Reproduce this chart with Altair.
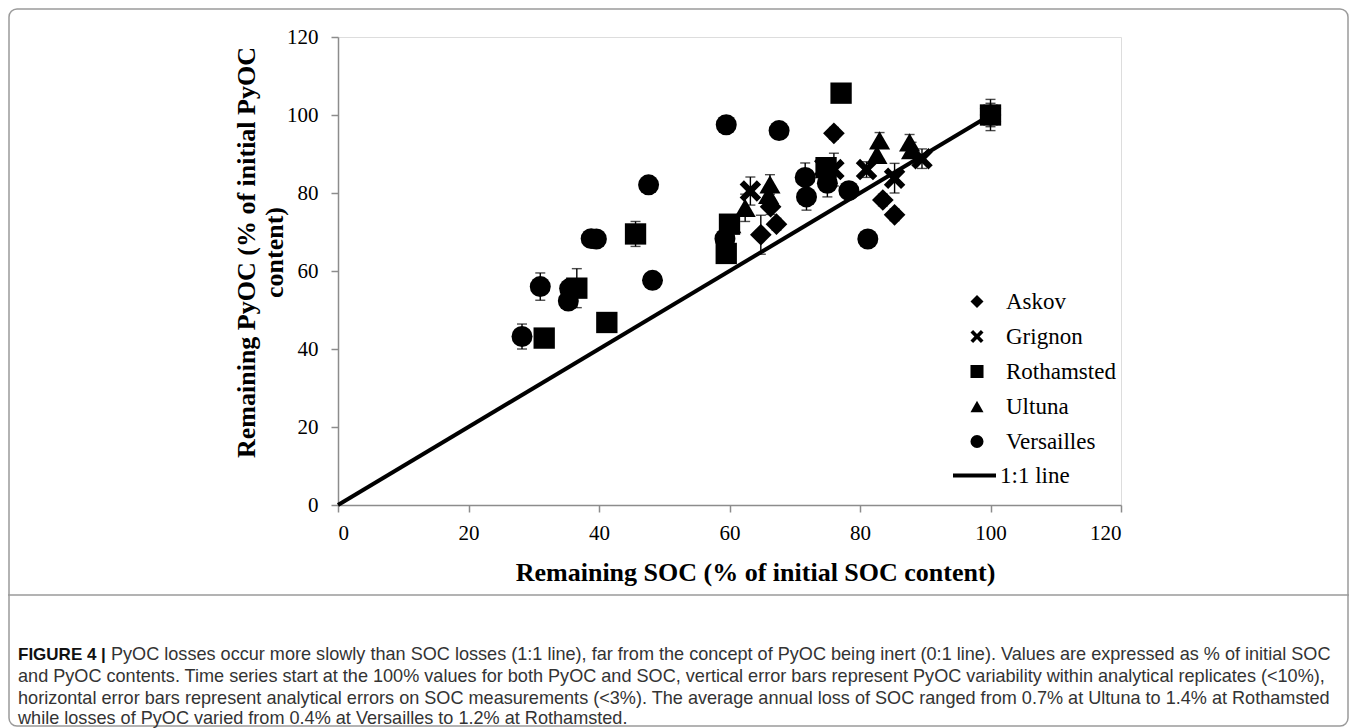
import altair as alt
import pandas as pd

sites = ["Askov", "Grignon", "Rothamsted", "Ultuna", "Versailles"]
marker_keys = ["m1", "m2", "m3", "m4", "m5"]

askov_x = [100, 76.0, 85.3, 83.5, 67.2, 64.8, 66.3]
askov_y = [100, 95.3, 74.4, 78.2, 72.0, 69.3, 76.5]
askov_err = [4.0, 1.5, 1.5, 1.5, 1.5, 5.0, 2.0]

grignon_x = [100, 89.5, 85.3, 81.0, 76.0, 74.6, 63.2]
grignon_y = [100, 88.8, 83.8, 86.0, 86.0, 86.5, 80.5]
grignon_err = [3.0, 2.5, 3.8, 2.0, 4.2, 2.0, 3.6]

rotham_x = [100, 77.1, 74.8, 60.0, 59.5, 45.6, 41.2, 36.6, 31.6]
rotham_y = [100, 105.6, 86.5, 72.0, 64.5, 69.5, 46.8, 55.6, 42.8]
rotham_err = [2.0, 1.0, 2.0, 2.0, 1.5, 3.2, 1.0, 5.0, 1.0]

ultuna_x = [100, 87.6, 87.9, 83.0, 82.6, 66.2, 66.0, 62.4, 60.2]
ultuna_y = [100, 93.0, 91.0, 93.5, 89.8, 82.2, 79.5, 76.2, 72.0]
ultuna_err = [2.0, 2.0, 2.0, 2.0, 2.0, 2.5, 2.0, 3.5, 2.0]

vers_x = [100, 81.2, 78.3, 75.0, 71.8, 71.6, 67.6, 59.5, 59.3, 48.2, 47.6, 39.6, 38.8, 35.3, 35.5, 31.0, 28.2]
vers_y = [100, 68.2, 80.6, 82.5, 79.0, 84.0, 96.0, 97.5, 68.3, 57.6, 82.1, 68.2, 68.3, 52.3, 55.5, 56.0, 43.2]
vers_err = [2.0, 1.0, 1.0, 3.5, 3.4, 3.7, 1.0, 2.2, 1.0, 1.0, 1.0, 1.0, 1.0, 1.0, 1.0, 3.5, 3.2]

line_x = [0, 100]
line_y = [0, 100]
line_label = "1:1 line"

axis_ticks = [0, 20, 40, 60, 80, 100, 120]

caption_bold = "FIGURE 4 |"
caption_lines = [
    "PyOC losses occur more slowly than SOC losses (1:1 line), far from the concept of PyOC being inert (0:1 line). Values are expressed as % of initial SOC",
    "and PyOC contents. Time series start at the 100% values for both PyOC and SOC, vertical error bars represent PyOC variability within analytical replicates (<10%),",
    "horizontal error bars represent analytical errors on SOC measurements (<3%). The average annual loss of SOC ranged from 0.7% at Ultuna to 1.4% at Rothamsted",
    "while losses of PyOC varied from 0.4% at Versailles to 1.2% at Rothamsted.",
]

rows = []
for site, mk, xs, ys, es in [
    ("Askov", "m1", askov_x, askov_y, askov_err),
    ("Grignon", "m2", grignon_x, grignon_y, grignon_err),
    ("Rothamsted", "m3", rotham_x, rotham_y, rotham_err),
    ("Ultuna", "m4", ultuna_x, ultuna_y, ultuna_err),
    ("Versailles", "m5", vers_x, vers_y, vers_err),
]:
    for x, y, e in zip(xs, ys, es):
        rows.append({"Site": site, "Marker": mk, "soc": x, "pyoc": y, "lo": y - e, "hi": y + e})
df = pd.DataFrame(rows)
line_df = pd.DataFrame({"soc": line_x, "pyoc": line_y, "lab": [line_label] * 2})

XPATH = "M-1,-0.6L-0.6,-1L0,-0.4L0.6,-1L1,-0.6L0.4,0L1,0.6L0.6,1L0,0.4L-0.6,1L-1,0.6L-0.4,0Z"

W, H = 783, 468
SERIF = "Liberation Serif"
SANS = "Liberation Sans"

xscale = alt.Scale(domain=[0, 120], nice=False)
yscale = alt.Scale(domain=[0, 120], nice=False)

xaxis = alt.Axis(values=axis_ticks, title="Remaining SOC (% of initial SOC content)",
                 grid=False, domainColor="#8c8c8c", domainWidth=1.5, tickColor="#8c8c8c",
                 tickWidth=1.5, tickSize=7, labelFont=SERIF, labelFontSize=21, labelColor="black",
                 labelPadding=10, titleFont=SERIF, titleFontSize=26, titleFontWeight="bold",
                 titleColor="black", titlePadding=16, titleX=417)
yaxis = alt.Axis(values=axis_ticks, title=["Remaining PyOC (% of initial PyOC", "content)"],
                 grid=False, domainColor="#8c8c8c", domainWidth=1.5, tickColor="#8c8c8c",
                 tickWidth=1.5, tickSize=7, labelFont=SERIF, labelFontSize=21, labelColor="black",
                 labelPadding=13, titleFont=SERIF, titleFontSize=26, titleFontWeight="bold",
                 titleColor="black", titleLineHeight=28, titleBaseline="middle",
                 titleX=-92, titleY=215)

base = alt.Chart(df)

line = alt.Chart(line_df).mark_line(strokeWidth=4).encode(
    x=alt.X("soc:Q", scale=xscale, axis=xaxis),
    y=alt.Y("pyoc:Q", scale=yscale, axis=yaxis),
    color=alt.Color("lab:N", scale=alt.Scale(range=["black"]),
                    legend=alt.Legend(title=None, orient="none", legendX=613, legendY=415,
                                      symbolType="stroke", symbolSize=1849, symbolStrokeWidth=4,
                                      labelFont=SERIF, labelFontSize=23, labelColor="black",
                                      labelOffset=2, padding=0)),
)

rules = base.mark_rule(color="black", strokeWidth=1.4).encode(
    x="soc:Q", y="lo:Q", y2="hi:Q")
cap_lo = base.mark_tick(color="black", orient="horizontal", size=10, thickness=1.4).encode(
    x="soc:Q", y="lo:Q")
cap_hi = base.mark_tick(color="black", orient="horizontal", size=10, thickness=1.4).encode(
    x="soc:Q", y="hi:Q")

points = base.mark_point(filled=True, color="black", opacity=1).encode(
    x="soc:Q",
    y="pyoc:Q",
    shape=alt.Shape("Site:N", scale=alt.Scale(domain=sites,
                    range=["diamond", XPATH, "square", "triangle-up", "circle"]),
                    legend=alt.Legend(title=None, orient="none", legendX=627.5, legendY=253,
                                      symbolSize=170, symbolFillColor="black",
                                      symbolStrokeColor="black", symbolOpacity=1,
                                      labelFont=SERIF, labelFontSize=23, labelColor="black",
                                      labelOffset=17.5, rowPadding=11, padding=0)),
    size=alt.Size("Marker:N", scale=alt.Scale(domain=marker_keys,
                                              range=[470, 440, 320, 450, 380]),
                  legend=None),
)

one = pd.DataFrame({"a": [0]})
border = alt.Chart(one).mark_rect(fillOpacity=0, stroke="#9a9a9a", strokeWidth=1.5,
                                  cornerRadius=8).encode(
    x=alt.value(-329), x2=alt.value(1010), y=alt.value(-28), y2=alt.value(689))
divider = alt.Chart(one).mark_rule(color="#9a9a9a", strokeWidth=1.5).encode(
    x=alt.value(-330), x2=alt.value(1011), y=alt.value(558), y2=alt.value(558))

cap_y = [618, 640, 662, 682]
cap_layers = [
    alt.Chart(one).mark_text(text=caption_bold, font=SANS, fontSize=17, fontWeight="bold",
                             align="left", baseline="middle", color="#111").encode(
        x=alt.value(-320), y=alt.value(cap_y[0]))
]
for i, t in enumerate(caption_lines):
    cap_layers.append(
        alt.Chart(one).mark_text(text=t, font=SANS, fontSize=18.1, align="left",
                                 baseline="middle", color="#333").encode(
            x=alt.value(-227 if i == 0 else -320), y=alt.value(cap_y[i])))

chart = alt.layer(border, divider, line, rules, cap_lo, cap_hi, points, *cap_layers).properties(
    width=W, height=H,
    padding={"left": 330, "top": 29, "right": 228, "bottom": 223},
    autosize=alt.AutoSizeParams(type="none"),
).configure_view(stroke=None).configure(background="white")

chart.save("out.html", embed_options={"renderer": "svg", "actions": False})
